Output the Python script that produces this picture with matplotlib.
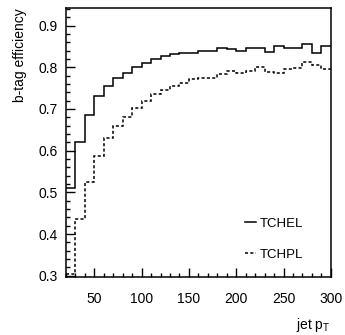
import numpy as np
import matplotlib
matplotlib.use("Agg")
import matplotlib.pyplot as plt
from matplotlib.ticker import MultipleLocator

plt.rcParams['font.family'] = ['Liberation Sans', 'DejaVu Sans']

# bin edges in jet pT (10 GeV bins from 20 to 300)
edges = np.arange(20, 301, 10)

# b-tag efficiency per bin
tchel = [0.510, 0.620, 0.686, 0.730, 0.756, 0.774, 0.787, 0.800, 0.810, 0.820,
         0.827, 0.832, 0.835, 0.835, 0.840, 0.839, 0.847, 0.844, 0.838, 0.847,
         0.846, 0.836, 0.851, 0.847, 0.847, 0.855, 0.834, 0.852]
tchpl = [0.304, 0.436, 0.524, 0.588, 0.631, 0.660, 0.680, 0.702, 0.719, 0.735,
         0.746, 0.754, 0.763, 0.771, 0.775, 0.775, 0.784, 0.790, 0.786, 0.792,
         0.801, 0.788, 0.787, 0.796, 0.798, 0.812, 0.805, 0.795]

fig = plt.figure(figsize=(3.45, 3.35), dpi=100)
ax = fig.add_axes([0.191, 0.173, 0.768, 0.803])

ax.stairs(tchel, edges, baseline=None, color='black', lw=1.1, label='TCHEL')
ax.stairs(tchpl, edges, baseline=None, color='black', lw=1.1,
          linestyle=(0, (2, 1.5)), label='TCHPL')

ax.set_xlim(20, 300)
ax.set_ylim(0.297, 0.942)

ax.xaxis.set_major_locator(MultipleLocator(50))
ax.xaxis.set_minor_locator(MultipleLocator(10))
ax.yaxis.set_major_locator(MultipleLocator(0.1))
ax.yaxis.set_minor_locator(MultipleLocator(0.02))
ax.tick_params(which='both', direction='in', top=False, right=False, labelsize=10, width=1)
ax.tick_params(which='major', length=6.5)
ax.tick_params(which='minor', length=3.2)
ax.tick_params(axis='x', pad=11)
ax.tick_params(axis='y', pad=6)
for s in ax.spines.values():
    s.set_linewidth(1.1)

ax.set_ylabel('b-tag efficiency', fontsize=10, loc='top', labelpad=8)
ax.set_xlabel('jet p$_{\\mathregular{T}}$', fontsize=10, loc='right', labelpad=7)

ax.legend(loc='upper left', bbox_to_anchor=(0.676, 0.22), frameon=False,
          handlelength=0.85, handletextpad=0.25, labelspacing=1.4, fontsize=9.5,
          borderaxespad=0, borderpad=0)

fig.savefig('out.png', dpi=100)
